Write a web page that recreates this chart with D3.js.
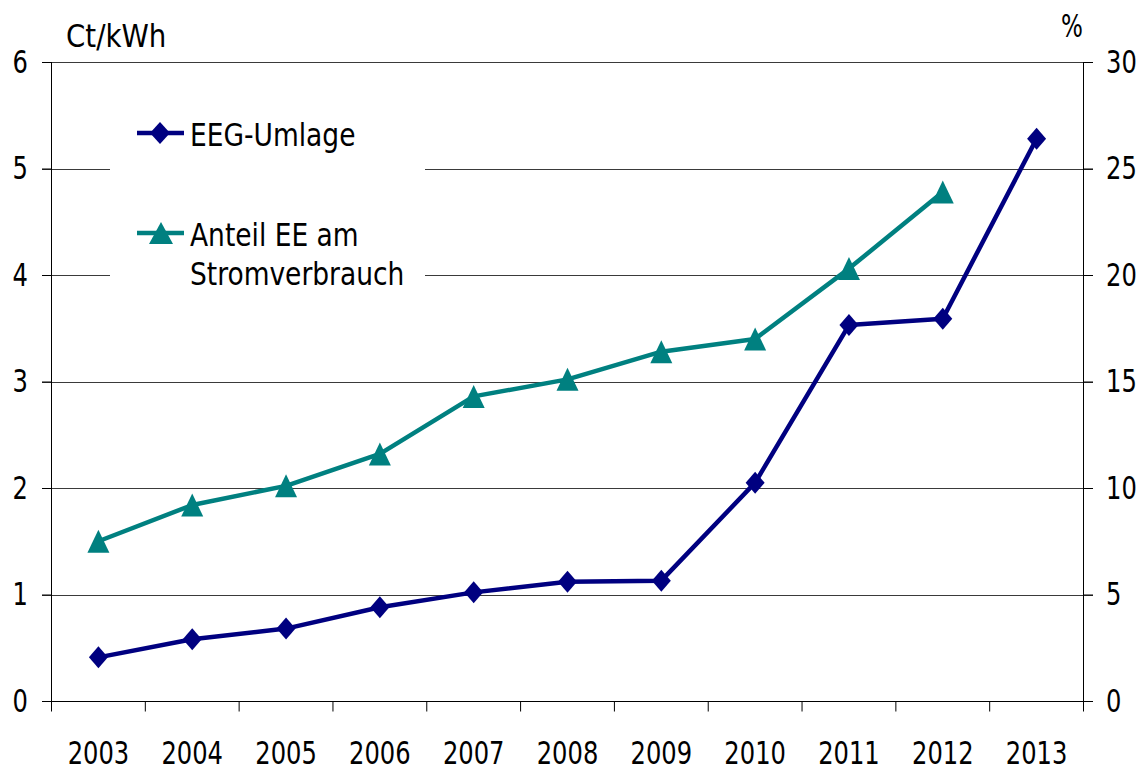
<!DOCTYPE html>
<html>
<head>
<meta charset="utf-8">
<script src="https://cdn.jsdelivr.net/npm/d3@7/dist/d3.min.js"></script>
<style>
  html, body { margin: 0; padding: 0; background: #fff; }
  svg text { font-family: "DejaVu Sans Condensed", "DejaVu Sans", sans-serif; fill: #000; }
</style>
</head>
<body>
<svg id="chart" width="1143" height="767"></svg>
<script>
// ---- data ----
const years = ["2003","2004","2005","2006","2007","2008","2009","2010","2011","2012","2013"];
const eegUmlage = [0.41, 0.58, 0.68, 0.88, 1.02, 1.12, 1.13, 2.05, 3.53, 3.59, 5.28];      // Ct/kWh (left axis)
const anteilEE  = [7.5, 9.2, 10.1, 11.6, 14.3, 15.1, 16.4, 17.0, 20.3, 23.9, null];       // % (right axis)
const leftTicks = [0, 1, 2, 3, 4, 5, 6];
const rightTicks = [0, 5, 10, 15, 20, 25, 30];
const leftUnit = "Ct/kWh";
const rightUnit = "%";
const seriesNames = ["EEG-Umlage", ["Anteil EE am", "Stromverbrauch"]];

// ---- layout ----
const svg = d3.select("#chart");
const L = 51.5, R = 1083.5, T = 62, B = 701;
const FS = 32;
const navy = "#000080", teal = "#008080";

const x = d3.scaleBand().domain(years).range([L, R]).padding(0);
const yL = d3.scaleLinear().domain([0, 6]).range([B, T]);
const yR = d3.scaleLinear().domain([0, 30]).range([B, T]);

function squeeze(f) {
  return sel => sel.each(function() {
    const len = this.getComputedTextLength();
    d3.select(this).attr("textLength", len * f).attr("lengthAdjust", "spacingAndGlyphs");
  });
}
const DIG = 0.84, TXT = 0.92;

// gridlines (extend across ticks on both sides)
svg.append("g")
  .selectAll("line").data(leftTicks.slice(1)).join("line")
  .attr("x1", L - 9.5).attr("x2", R + 9.5)
  .attr("y1", d => Math.round(yL(d)) + 0.5).attr("y2", d => Math.round(yL(d)) + 0.5)
  .attr("stroke", "#3a3a3a").attr("stroke-width", 1);

// left axis
const gL = svg.append("g").attr("transform", `translate(${L},0)`)
  .call(d3.axisLeft(yL).tickValues(leftTicks).tickSize(9.5).tickPadding(14).tickFormat(d3.format("d")));
// right axis
const gR = svg.append("g").attr("transform", `translate(${R},0)`)
  .call(d3.axisRight(yR).tickValues(rightTicks).tickSize(9.5).tickPadding(13).tickFormat(d3.format("d")));
// bottom axis: ticks at category boundaries
const boundaries = years.map(y => x(y)).concat([R]);
const gB = svg.append("g").attr("transform", `translate(0,${B + 0.5})`);
gB.append("line").attr("x1", L - 9.5).attr("x2", R + 9.5).attr("stroke", "#000");
gB.selectAll("line.tk").data(boundaries).join("line").attr("class", "tk")
  .attr("x1", d => d).attr("x2", d => d).attr("y1", 0).attr("y2", 10).attr("stroke", "#000");
gB.selectAll("text").data(years).join("text")
  .attr("x", d => x(d) + x.bandwidth() / 2).attr("y", 62.5)
  .attr("text-anchor", "middle").style("font-size", FS + "px").text(d => d)
  .call(squeeze(DIG));

[gL, gR].forEach(g => {
  g.select(".domain").remove();
  g.selectAll(".tick line").attr("stroke", "#000");
  g.selectAll(".tick text").style("font-size", FS + "px").call(squeeze(DIG));
  g.attr("font-family", null).attr("font-size", null);
});
svg.append("line").attr("x1", L).attr("x2", L).attr("y1", T).attr("y2", B + 10).attr("stroke", "#000");
svg.append("line").attr("x1", R).attr("x2", R).attr("y1", T).attr("y2", B + 10).attr("stroke", "#000");

// unit labels
svg.append("text").attr("x", 66).attr("y", 47).style("font-size", FS + "px").text(leftUnit).call(squeeze(0.96));
svg.append("text").attr("x", 1083).attr("y", 37).attr("text-anchor", "end").style("font-size", FS + "px").text(rightUnit).call(squeeze(0.8));

// legend background (white box covering gridlines)
svg.append("rect").attr("x", 110).attr("y", 90).attr("width", 315).attr("height", 210).attr("fill", "#fff");

// lines
const cx = d => x(d) + x.bandwidth() / 2;
const lineL = d3.line().defined(d => d[1] != null).x(d => cx(d[0])).y(d => yL(d[1]));
const lineR = d3.line().defined(d => d[1] != null).x(d => cx(d[0])).y(d => yR(d[1]));
const dataE = years.map((y, i) => [y, eegUmlage[i]]);
const dataA = years.map((y, i) => [y, anteilEE[i]]);

const diamond = (w, h) => `M0,${-h/2}L${w/2},0L0,${h/2}L${-w/2},0Z`;
const triangle = (w, h) => `M0,${-h/2}L${w/2},${h/2}L${-w/2},${h/2}Z`;

svg.append("path").datum(dataA).attr("d", lineR).attr("fill", "none")
  .attr("stroke", teal).attr("stroke-width", 4.5).attr("stroke-linejoin", "round");
svg.append("g").selectAll("path").data(dataA.filter(d => d[1] != null)).join("path")
  .attr("transform", d => `translate(${cx(d[0])},${yR(d[1])})`)
  .attr("d", triangle(22, 23)).attr("fill", teal);

svg.append("path").datum(dataE).attr("d", lineL).attr("fill", "none")
  .attr("stroke", navy).attr("stroke-width", 4.5).attr("stroke-linejoin", "round");
svg.append("g").selectAll("path").data(dataE).join("path")
  .attr("transform", d => `translate(${cx(d[0])},${yL(d[1])})`)
  .attr("d", diamond(19, 22)).attr("fill", navy);

// legend
const lg = svg.append("g");
lg.append("line").attr("x1", 137).attr("x2", 184).attr("y1", 133).attr("y2", 133).attr("stroke", navy).attr("stroke-width", 4.5);
lg.append("path").attr("transform", "translate(160,133)").attr("d", diamond(20, 22)).attr("fill", navy);
lg.append("text").attr("x", 190).attr("y", 146).style("font-size", FS + "px").text(seriesNames[0]).call(squeeze(TXT));
lg.append("line").attr("x1", 137).attr("x2", 184).attr("y1", 233).attr("y2", 233).attr("stroke", teal).attr("stroke-width", 4.5);
lg.append("path").attr("transform", "translate(161,233)").attr("d", triangle(24, 22)).attr("fill", teal);
lg.append("text").attr("x", 190).attr("y", 246).style("font-size", FS + "px").text(seriesNames[1][0]).call(squeeze(TXT));
lg.append("text").attr("x", 190).attr("y", 285).style("font-size", FS + "px").text(seriesNames[1][1]).call(squeeze(TXT));
</script>
</body>
</html>
